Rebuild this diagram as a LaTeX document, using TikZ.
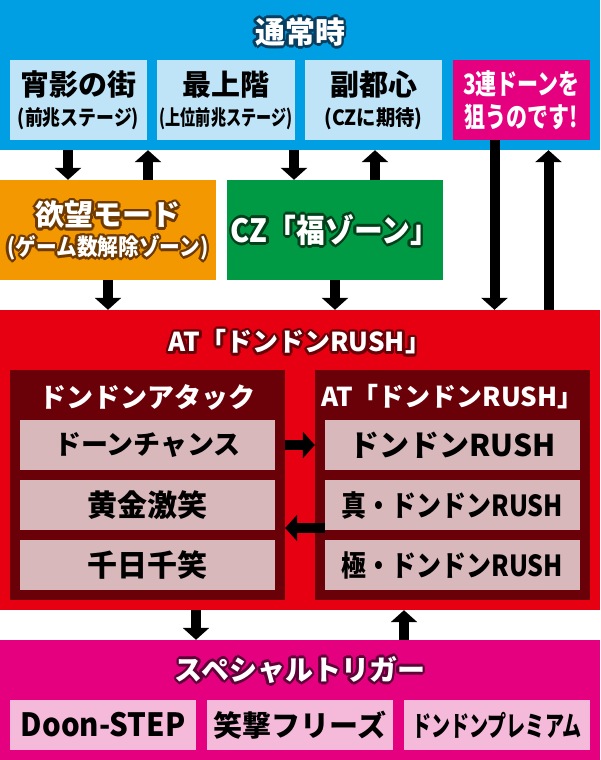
\documentclass[tikz,border=0pt]{standalone}
\usepackage{fontspec}
\usepackage{graphicx}
\setmainfont{Noto Sans CJK JP}
\usetikzlibrary{arrows.meta}
\usetikzlibrary{positioning}
\definecolor{nblue}{HTML}{009EE2}
\definecolor{lblue}{HTML}{BFE4F7}
\definecolor{mpink}{HTML}{E4007F}
\definecolor{morange}{HTML}{F39800}
\definecolor{mgreen}{HTML}{009944}
\definecolor{mred}{HTML}{E60012}
\definecolor{dred}{HTML}{6A0008}
\definecolor{itemgray}{HTML}{D9B8BC}
\definecolor{lpink}{HTML}{F5B9D9}
\definecolor{navyline}{HTML}{083F60}
\definecolor{brownline}{HTML}{6E3A00}
\definecolor{greenline}{HTML}{00401A}
\definecolor{purpleline}{HTML}{600038}
\newcommand{\fs}[1]{\fontsize{#1}{#1}\selectfont}
\newcommand{\squeeze}[2]{\scalebox{#1}[1]{#2}}
% white heading with a dark rim: copies round the spot, then the text on top
\newcommand{\rimtext}[5]{%
  \foreach \a in {0,30,...,330}
    \node [text=#3, font=#4, shift={(\a:2.6pt)}] at (#2) {#5};
  \node [text=white, font=#4] (#1) at (#2) {#5};}

\begin{document}
\begin{tikzpicture}[x=1pt, y=1pt,
    band/.style={rectangle, inner sep=0pt, minimum width=600pt},
    box/.style={rectangle, inner sep=0pt, minimum width=137pt, minimum height=80pt,
      align=center, font=\bfseries\fontsize{21}{30}\selectfont},
    item/.style={rectangle, inner sep=0pt, fill=itemgray, minimum width=255pt,
      minimum height=50pt, font=\bfseries\fs{27}},
    chip/.style={rectangle, inner sep=0pt, fill=lpink, minimum width=186pt,
      minimum height=50pt, font=\bfseries\fs{29}},
    flow/.style={line width=10pt, -{Triangle[length=12pt,width=26pt]}}]

  \useasboundingbox (0,0) rectangle (600,760);

  % normal play
  \node [band, fill=nblue, minimum height=150pt] (normal) at (300,685) {};
  \rimtext{normaltitle}{300,728}{navyline}{\bfseries\fs{30}}{通常時}
  \node [box, fill=lblue] (shadowtown) at (78.5,660) {{\fontsize{29}{30}\selectfont 宵影の街}\\\squeeze{0.85}{(前兆ステージ)}};
  \node [box, fill=lblue, minimum width=138pt] (topfloor) at (226,660) {{\fontsize{29}{30}\selectfont 最上階}\\\squeeze{0.72}{(上位前兆ステージ)}};
  \node [box, fill=lblue] (subcity) at (373.5,660) {{\fontsize{29}{30}\selectfont 副都心}\\\squeeze{0.92}{(CZに期待)}};
  \node [box, fill=mpink, text=white, font=\bfseries\fontsize{28}{33}\selectfont] (aimbox) at (521.5,660) {\squeeze{0.75}{3連ドーンを}\\\squeeze{0.75}{狙うのです!}};

  % desire mode and cz
  \node [rectangle, inner sep=0pt, fill=morange, minimum width=216pt, minimum height=100pt] (yokubo) at (108,530) {};
  \rimtext{yokubotitle}{108,545}{brownline}{\bfseries\fs{29}}{欲望モード}
  \rimtext{yokubonote}{108,512}{brownline}{\bfseries\fs{23}}{\squeeze{0.9}{(ゲーム数解除ゾーン)}}
  \node [rectangle, inner sep=0pt, fill=mgreen, minimum width=216pt, minimum height=100pt] (fukuzone) at (335,530) {};
  \rimtext{fukutitle}{335,530}{greenline}{\bfseries\fs{32}}{\squeeze{0.9}{CZ「福ゾーン」}}

  % at rush
  \node [band, fill=mred, minimum height=300pt] (rush) at (300,300) {};
  \rimtext{rushtitle}{300,418}{dred}{\bfseries\fs{26}}{AT「ドンドンRUSH」}
  \node [rectangle, inner sep=0pt, fill=dred, minimum width=275pt, minimum height=230pt] (attack) at (147.5,275) {};
  \node [rectangle, inner sep=0pt, fill=dred, minimum width=275pt, minimum height=230pt] (rushset) at (452.5,275) {};
  \node [text=white, font=\bfseries\fs{27}] (attackhead) at (147.5,363) {ドンドンアタック};
  \node [text=white, font=\bfseries\fs{26}] (rushhead) at (452.5,363) {AT「ドンドンRUSH」};
  \node [item] (doonchance) at (147.5,315) {ドーンチャンス};
  \node [item, font=\bfseries\fs{30}] (ougon) at (147.5,255) {黄金激笑};
  \node [item, font=\bfseries\fs{30}] (senjitsu) at (147.5,195) {千日千笑};
  \node [item, font=\bfseries\fs{30}] (donrush) at (452.5,315) {ドンドンRUSH};
  \node [item, font=\bfseries\fs{29}] (shinrush) at (452.5,255) {\squeeze{0.86}{真・ドンドンRUSH}};
  \node [item, font=\bfseries\fs{29}] (kiwamirush) at (452.5,195) {\squeeze{0.86}{極・ドンドンRUSH}};

  % special trigger
  \node [band, fill=mpink, minimum height=120pt] (special) at (300,60) {};
  \rimtext{specialtitle}{300,90}{purpleline}{\bfseries\fs{28}}{スペシャルトリガー}
  \node [chip, font=\bfseries\fs{32}] (doonstep) at (103,35) {\squeeze{0.92}{Doon-STEP}};
  \node [chip] (shogeki) at (300,35) {笑撃フリーズ};
  \node [chip, font=\bfseries\fs{28}] (donpremium) at (497,35) {\squeeze{0.68}{ドンドンプレミアム}};

  % connectors
  \coordinate (toyokubo) at ([xshift=-40pt]yokubo.north);
  \coordinate (fromyokubo) at ([xshift=40pt]yokubo.north);
  \coordinate (tofuku) at ([xshift=-41pt]fukuzone.north);
  \coordinate (fromfuku) at ([xshift=40pt]fukuzone.north);
  \coordinate (aimdown) at ([xshift=-27pt]aimbox.south);
  \coordinate (aimup) at ([xshift=27pt]aimbox.south);
  \coordinate (totrigger) at ([xshift=-104pt]rush.south);
  \coordinate (fromtrigger) at ([xshift=104pt]rush.south);
  \coordinate (backlink) at ([yshift=-23pt]shinrush.west);

  \draw [flow] (toyokubo |- normal.south) -- (toyokubo);
  \draw [flow] (fromyokubo) -- (fromyokubo |- normal.south);
  \draw [flow] (tofuku |- normal.south) -- (tofuku);
  \draw [flow] (fromfuku) -- (fromfuku |- normal.south);
  \draw [flow] (aimdown) -- (aimdown |- rush.north);
  \draw [flow] (aimup |- rush.north) -- (aimup |- normal.south);
  \draw [flow] (yokubo.south) -- (yokubo.south |- rush.north);
  \draw [flow] (fukuzone.south) -- (fukuzone.south |- rush.north);
  \draw [flow] (attack.east |- doonchance) -- (rushset.west |- doonchance);
  \draw [flow] (backlink) -- (backlink -| attack.east);
  \draw [flow] (totrigger) -- (totrigger |- special.north);
  \draw [flow] (fromtrigger |- special.north) -- (fromtrigger);
\end{tikzpicture}
\end{document}
